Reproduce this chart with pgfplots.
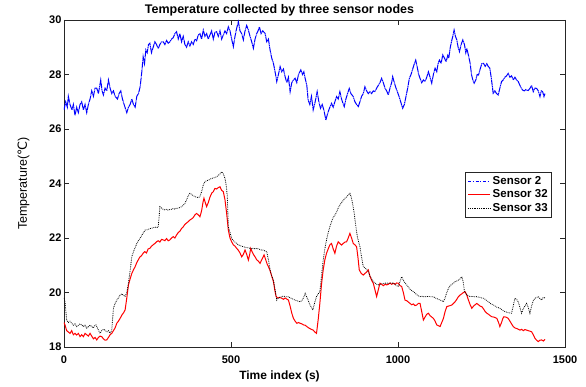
\documentclass[border=0pt]{standalone}
\usepackage{fontspec}
\setmainfont{Liberation Sans}
\newfontfamily\dejavu{DejaVu Sans}
\usepackage{pgfplots}
\pgfplotsset{compat=1.18}
\pgfplotsset{legend image code/.code={\draw[mark repeat=2,mark phase=2,#1] plot coordinates {(0pt,0pt) (11pt,0pt) (22pt,0pt)};}}
\definecolor{sblue}{rgb}{0,0,1}
\begin{document}
\begin{tikzpicture}
\begin{axis}[
  scale only axis, width=501pt, height=327pt,
  xmin=0, xmax=1500, ymin=18, ymax=30,
  xtick={0,500,1000,1500}, ytick={18,20,...,30},
  tick align=inside, major tick length=5pt,
  axis line style={line width=0.6pt, black!85},
  tick style={line width=0.6pt, black!85},
  /pgf/number format/assume math mode=true,
  /pgf/number format/1000 sep={},
  ticklabel style={font=\bfseries\fontsize{11}{13}\selectfont},
  xticklabel style={yshift=-5pt},
  yticklabel style={xshift=1pt},
  title={Temperature collected by three sensor nodes},
  title style={font=\bfseries\fontsize{12.5}{14}\selectfont, yshift=-6pt, xshift=-35pt},
  xlabel={Time index (s)},
  ylabel={Temperature({\dejavu ℃})},
  xlabel style={font=\bfseries\fontsize{12}{14}\selectfont, yshift=-1pt, xshift=-35pt},
  ylabel style={font=\fontsize{12.5}{14}\selectfont, yshift=13pt},
  legend style={at={(0.974,0.535)}, anchor=north east, font=\bfseries\fontsize{11.5}{13}\selectfont, draw=black!85, line width=0.6pt, inner sep=2pt, row sep=0pt},
  legend cell align=left,
]
\addplot[sblue, line width=1pt, dash pattern=on 6pt off 0.6pt on 1pt off 0.6pt, forget plot] table {
0 26.7
5 27.0
10 26.8
13 27.2
18 26.9
24 26.7
28 26.9
33 26.5
38 26.8
43 26.6
48 26.9
53 27.0
58 26.7
63 26.9
68 26.6
73 26.9
78 27.1
83 27.4
88 27.2
93 27.5
98 27.5
103 27.3
110 27.8
114 27.4
118 27.25
123 27.5
128 27.4
133 27.8
138 27.5
143 27.3
148 27.4
153 27.2
160 27.1
165 27.3
170 27.4
175 27.1
180 26.9
188 26.6
193 26.8
198 26.9
203 27.1
208 26.9
213 26.8
218 27.2
223 27.3
228 27.55
233 28.1
237 28.65
241 28.4
245 28.9
249 28.8
253 29.1
257 29.15
262 28.8
267 29.0
272 29.2
277 29.1
282 28.95
287 29.1
292 29.2
297 29.2
302 29.1
307 29.25
312 29.15
317 29.2
322 29.3
327 29.35
332 29.5
337 29.57
342 29.3
347 29.5
352 29.2
357 29.4
362 29.1
367 29.0
372 29.2
377 29.05
382 29.2
387 29.1
392 29.3
397 29.24
402 29.45
407 29.5
412 29.3
417 29.63
422 29.4
427 29.5
432 29.3
437 29.45
442 29.6
447 29.3
452 29.55
457 29.57
462 29.4
467 29.6
472 29.3
477 29.45
482 29.6
487 29.5
492 29.75
497 29.6
502 29.3
507 29.02
512 29.4
517 29.7
522 29.94
527 29.6
532 29.5
537 29.27
542 29.6
547 29.8
552 29.63
557 29.4
562 29.2
567 28.96
572 29.3
577 29.5
581 29.6
585 29.75
590 29.5
595 29.6
602 29.51
607 29.2
612 29.3
617 28.9
622 28.6
627 28.41
632 28.1
637 27.74
642 28.0
647 28.29
652 28.1
657 28.2
662 27.92
667 27.7
672 27.9
677 27.37
682 27.7
687 27.8
692 27.86
697 27.7
702 28.0
709 28.17
714 28.0
718 28.1
722 27.86
727 27.6
731 27.06
736 26.9
741 27.2
746 26.7
752 27.0
758 27.37
763 27.0
768 26.76
773 26.9
778 26.7
784 26.33
790 26.6
796 26.8
801 26.94
806 26.8
811 27.0
816 27.19
821 27.1
826 27.37
831 27.1
835 26.95
839 26.82
844 27.1
849 27.3
854 27.49
859 27.3
866 27.19
871 27.0
876 26.9
881 26.82
886 27.0
891 27.2
896 27.3
901 27.55
906 27.4
911 27.3
916 27.37
921 27.3
926 27.4
931 27.37
936 27.5
941 27.6
946 27.7
951 27.86
956 27.7
961 27.5
966 27.4
971 27.25
976 27.5
981 27.7
984 27.92
989 27.7
994 27.5
998 27.37
1003 27.2
1008 27.0
1014 26.76
1019 26.9
1024 27.2
1029 27.5
1034 27.86
1039 28.0
1044 28.2
1049 28.4
1053 28.53
1057 28.3
1062 28.0
1066 27.86
1071 27.7
1076 27.8
1081 27.74
1086 27.9
1091 28.1
1096 27.9
1101 27.68
1106 28.0
1111 28.23
1116 28.1
1120 28.4
1124 28.53
1129 28.4
1134 28.72
1139 28.6
1144 28.47
1149 28.7
1152 28.6
1156 28.96
1160 29.2
1164 29.4
1168 29.63
1172 29.4
1176 29.27
1180 29.0
1184 28.84
1189 29.1
1194 29.27
1199 29.1
1203 28.8
1206 28.96
1211 28.7
1216 28.41
1220 28.0
1224 27.8
1228 27.68
1233 27.8
1237 28.0
1241 27.98
1246 28.2
1251 28.4
1256 28.41
1261 28.3
1266 28.4
1270 28.3
1275 28.23
1280 27.8
1285 27.31
1290 27.4
1295 27.3
1300 27.25
1305 27.5
1310 27.74
1315 27.8
1320 27.9
1325 27.95
1330 28.04
1335 27.9
1340 27.95
1345 27.8
1350 27.9
1355 27.8
1360 27.74
1365 27.6
1369 27.5
1373 27.43
1378 27.4
1383 27.45
1389 27.4
1395 27.49
1400 27.6
1405 27.37
1410 27.5
1415 27.49
1420 27.4
1425 27.19
1429 27.4
1433 27.37
1437 27.19
1440 27.3
};
\addlegendimage{legend image code/.code={\draw[sblue, line width=1.1pt, dash pattern=on 3.2pt off 1.5pt on 1.2pt off 1.5pt] (0pt,0pt) -- (22pt,0pt);}}
\addlegendentry{Sensor 2}
\addplot[red, line width=1pt] table {
0 18.9
3 18.81
8 18.6
13 18.55
18 18.5
23 18.6
28 18.45
33 18.5
38 18.44
43 18.5
48 18.38
53 18.45
58 18.38
63 18.5
68 18.45
73 18.4
78 18.5
83 18.4
88 18.3
93 18.35
98 18.26
103 18.35
108 18.4
113 18.38
118 18.3
123 18.25
128 18.26
133 18.35
138 18.45
143 18.5
148 18.6
153 18.7
158 18.87
163 18.95
168 19.05
173 19.17
178 19.25
183 19.36
188 19.8
193 20.28
198 20.5
203 20.7
208 20.83
213 20.95
218 21.1
222 21.19
227 21.3
232 21.35
237 21.44
242 21.5
247 21.45
252 21.6
257 21.62
262 21.7
267 21.75
272 21.8
277 21.86
282 21.9
287 21.85
292 21.95
297 21.93
302 21.9
307 21.98
312 21.9
317 21.93
322 22.0
327 22.05
332 22.0
337 22.11
342 22.2
347 22.25
352 22.35
357 22.41
362 22.5
367 22.55
372 22.6
377 22.66
382 22.7
387 22.75
392 22.85
397 22.9
402 22.85
407 22.78
412 23.0
416 23.3
419 23.46
423 23.3
427 23.15
432 23.3
437 23.5
442 23.64
447 23.7
452 23.82
457 23.8
462 23.85
467 23.88
472 23.75
477 23.7
482 23.4
487 22.9
492 22.29
497 22.0
502 21.86
507 21.75
512 21.7
517 21.62
522 21.55
527 21.45
532 21.31
537 21.4
542 21.56
547 21.4
552 21.19
556 21.4
559 21.62
563 21.5
567 21.4
572 21.31
577 21.2
582 21.15
587 21.07
592 21.2
596 21.3
599 21.38
604 21.2
608 21.05
612 20.95
617 20.8
622 20.6
627 20.4
631 20.1
635 19.85
640 19.8
645 19.82
652 19.79
657 19.75
662 19.8
667 19.76
672 19.72
677 19.5
682 19.24
687 19.05
692 18.95
697 18.87
702 18.9
707 18.87
712 18.85
717 18.81
722 18.8
727 18.75
734 18.69
740 18.65
746 18.62
751 18.55
756 18.5
761 19.0
766 19.6
771 20.3
776 20.83
781 21.2
786 21.44
791 21.6
796 21.75
801 21.8
806 21.6
811 21.44
816 21.7
821 21.86
826 21.8
831 21.74
836 21.8
841 21.85
846 21.86
851 22.0
856 22.17
861 22.0
866 21.8
871 21.75
876 21.68
880 21.3
884 20.83
890 20.7
896 20.64
901 20.7
906 20.75
911 20.83
916 20.6
921 20.45
926 20.34
931 20.1
936 19.85
941 20.1
946 20.34
951 20.3
956 20.25
961 20.3
966 20.28
971 20.3
976 20.35
981 20.3
986 20.34
991 20.3
996 20.35
1001 20.34
1006 20.25
1011 20.22
1016 20.0
1021 19.72
1026 19.7
1031 19.65
1036 19.6
1041 19.55
1046 19.58
1051 19.52
1056 19.54
1061 19.6
1066 19.6
1071 19.3
1076 18.99
1081 19.1
1086 19.2
1091 19.24
1096 19.15
1101 19.1
1106 19.05
1111 18.95
1116 18.81
1121 18.78
1126 18.75
1131 18.9
1136 19.05
1141 19.3
1146 19.48
1151 19.5
1156 19.52
1161 19.54
1166 19.6
1171 19.66
1176 19.75
1181 19.85
1186 19.91
1191 19.95
1196 20.0
1201 20.03
1206 19.9
1211 19.72
1216 19.55
1221 19.42
1226 19.5
1231 19.55
1236 19.6
1241 19.55
1246 19.5
1251 19.48
1256 19.4
1261 19.3
1266 19.24
1271 19.2
1276 19.15
1281 19.11
1286 19.1
1291 19.08
1296 19.05
1301 18.9
1305 18.75
1310 18.9
1314 19.05
1317 19.11
1322 19.1
1326 19.08
1330 19.05
1335 18.95
1340 18.85
1345 18.75
1350 18.7
1355 18.68
1360 18.65
1365 18.62
1370 18.65
1375 18.6
1380 18.64
1385 18.62
1390 18.6
1395 18.58
1400 18.56
1405 18.45
1410 18.32
1415 18.25
1420 18.2
1425 18.25
1430 18.26
1435 18.22
1440 18.28
};
\addlegendentry{Sensor 32}
\addplot[black, line width=0.8pt, densely dotted] table {
0 19.8
3 19.66
8 18.99
13 18.9
18 18.95
23 18.87
28 18.8
33 18.85
38 18.75
43 18.8
48 18.85
53 18.81
58 18.75
63 18.8
68 18.69
73 18.75
78 18.8
83 18.75
88 18.7
92 18.8
96 18.81
100 18.7
104 18.6
108 18.5
113 18.6
118 18.65
123 18.62
128 18.55
133 18.6
138 18.5
143 18.62
148 19.42
153 19.6
158 19.72
163 19.8
168 19.91
173 19.95
178 19.9
183 19.85
188 20.0
193 20.34
198 20.8
203 21.31
208 21.5
213 21.65
218 21.8
223 21.9
228 21.99
233 22.1
238 22.2
243 22.29
248 22.3
253 22.32
258 22.35
263 22.36
268 22.38
273 22.4
278 22.38
282 22.41
285 22.8
287 23.15
292 23.1
297 23.05
302 23.03
307 23.05
312 23.02
317 23.05
322 23.05
327 23.08
332 23.06
337 23.1
342 23.09
347 23.12
352 23.15
357 23.2
362 23.27
367 23.4
372 23.55
377 23.64
382 23.6
387 23.55
392 23.52
397 23.5
402 23.48
407 23.52
412 23.7
417 23.95
422 24.07
427 24.1
432 24.12
437 24.15
442 24.19
447 24.2
452 24.22
457 24.25
462 24.3
467 24.35
472 24.43
477 24.35
482 24.19
486 23.9
489 23.52
492 22.41
497 22.2
502 21.99
507 21.9
512 21.85
517 21.8
522 21.75
527 21.72
532 21.7
537 21.68
542 21.66
547 21.65
552 21.64
557 21.62
562 21.6
567 21.63
572 21.6
577 21.62
582 21.6
587 21.58
592 21.55
597 21.56
602 21.52
607 21.5
612 21.2
617 20.83
622 20.6
627 20.46
632 20.1
637 19.72
642 19.8
647 19.82
652 19.85
657 19.87
662 19.85
667 19.84
672 19.85
677 19.8
682 19.78
687 19.75
692 19.72
697 19.7
702 19.68
707 19.66
712 19.7
717 19.8
722 19.97
726 19.85
731 19.72
736 19.55
741 19.45
745 19.36
750 19.6
756 19.85
761 19.95
766 20.03
771 20.6
776 21.19
781 21.6
786 21.93
791 22.2
796 22.41
801 22.6
806 22.75
811 22.84
816 22.95
821 23.1
826 23.21
831 23.3
836 23.38
841 23.46
846 23.5
851 23.58
856 23.64
860 23.5
864 23.27
869 22.9
874 22.41
879 22.0
886 21.68
891 21.3
896 20.95
901 20.9
906 20.85
911 20.77
916 20.6
921 20.5
926 20.4
931 20.35
936 20.3
941 20.28
946 20.3
951 20.32
956 20.33
961 20.34
966 20.35
971 20.33
976 20.34
981 20.35
986 20.34
991 20.3
996 20.25
1001 20.22
1006 20.4
1011 20.58
1016 20.45
1021 20.35
1026 20.28
1031 20.2
1036 20.12
1041 20.07
1046 20.03
1051 19.98
1056 19.92
1061 19.88
1066 19.85
1071 19.86
1076 19.85
1081 19.84
1086 19.85
1091 19.86
1096 19.85
1101 19.84
1106 19.85
1111 19.8
1116 19.78
1121 19.75
1126 19.72
1131 19.7
1136 19.66
1141 19.8
1146 20.0
1151 20.15
1156 20.25
1161 20.3
1166 20.34
1171 20.4
1176 20.42
1181 20.46
1186 20.5
1191 20.58
1195 20.4
1199 20.03
1204 19.95
1210 19.88
1216 19.85
1221 19.86
1226 19.85
1231 19.84
1236 19.85
1241 19.83
1246 19.82
1251 19.8
1256 19.79
1261 19.75
1266 19.7
1271 19.66
1276 19.6
1281 19.57
1286 19.54
1291 19.5
1296 19.46
1301 19.44
1305 19.42
1310 19.38
1315 19.33
1320 19.3
1325 19.28
1330 19.26
1335 19.25
1340 19.24
1345 19.5
1350 19.79
1355 19.75
1360 19.66
1365 19.45
1370 19.24
1375 19.4
1380 19.5
1385 19.6
1390 19.45
1395 19.24
1400 19.5
1405 19.7
1410 19.79
1415 19.82
1420 19.85
1425 19.78
1430 19.72
1433 19.8
1437 19.82
1440 19.8
};
\addlegendentry{Sensor 33}
\end{axis}
\path (current axis.south west) ++(-64pt,-39pt) coordinate (bbA);
\path (current axis.north east) ++(21pt,20pt) coordinate (bbB);
\path (bbA) rectangle (bbB);
\end{tikzpicture}
\end{document}
